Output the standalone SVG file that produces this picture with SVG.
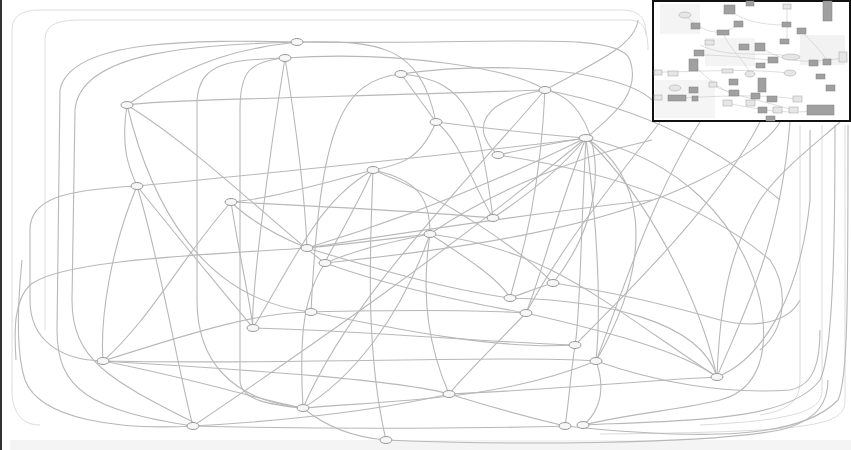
<svg xmlns="http://www.w3.org/2000/svg" width="851" height="450" viewBox="0 0 851 450">
<style>
.e{fill:none;stroke:#b8b8b8;stroke-width:1.1}
.f{fill:none;stroke:#dcdcdc;stroke-width:1}
.n{fill:#f7f7f7;stroke:#999;stroke-width:1}
.ib{fill:#a0a0a0;stroke:#808080;stroke-width:0.5}
.il{fill:#e6e6e6;stroke:#a0a0a0;stroke-width:0.5}
.ie{fill:none;stroke:#c8c8c8;stroke-width:0.6}
</style>
<rect width="851" height="450" fill="#ffffff"/>
<rect x="10" y="440" width="841" height="10" fill="#f4f4f4"/>
<line x1="1" y1="0" x2="1" y2="450" stroke="#333" stroke-width="2"/>
<g id="connectors">
<path class="f" d="M40,425 C20,425 12,410 12,390 L12,30 C12,16 22,10 40,10 L620,10 C640,10 646,18 646,35"/>
<path class="f" d="M45,330 L45,40 C45,26 55,20 80,20 L628,20 C642,20 648,28 648,50"/>
<path class="f" d="M800,125 L800,380 C800,400 790,410 760,415"/>
<path class="f" d="M822,125 L822,390 C822,410 800,420 700,425"/>
<path class="f" d="M845,125 L845,400 C845,425 820,432 600,434"/>
<path class="e" d="M297,42 C200,40 70,38 60,90 L57,330 C57,390 90,410 193,426"/>
<path class="e" d="M297,42 C200,45 80,50 75,110 L72,300 C72,360 110,380 193,422"/>
<path class="e" d="M285,58 C230,60 200,62 197,100 L197,300 C197,360 230,400 303,408"/>
<path class="e" d="M285,58 C250,62 240,70 240,110 L240,380 C240,400 270,405 303,408"/>
<path class="e" d="M297,42 C250,48 200,55 127,105"/>
<path class="e" d="M127,105 C160,100 300,98 545,90"/>
<path class="e" d="M127,105 C200,150 280,230 325,263"/>
<path class="e" d="M127,105 C120,150 130,170 137,186"/>
<path class="e" d="M137,186 C200,180 500,150 586,138"/>
<path class="e" d="M137,186 C180,240 230,300 253,328"/>
<path class="e" d="M137,186 C110,250 100,320 103,361"/>
<path class="e" d="M285,58 C300,150 305,200 307,248"/>
<path class="e" d="M297,42 C380,40 420,45 436,122"/>
<path class="e" d="M401,74 L436,122"/>
<path class="e" d="M401,74 C340,80 320,130 311,312"/>
<path class="e" d="M545,90 C480,100 470,130 498,155"/>
<path class="e" d="M545,90 C600,100 620,200 553,283"/>
<path class="e" d="M545,90 C540,200 520,260 510,298"/>
<path class="e" d="M586,138 C560,200 540,280 526,313"/>
<path class="e" d="M586,138 C580,250 580,320 575,345"/>
<path class="e" d="M586,138 C600,250 600,320 596,361"/>
<path class="e" d="M586,138 C650,200 700,300 717,377"/>
<path class="e" d="M586,138 C640,170 660,250 596,361"/>
<path class="e" d="M586,138 C500,180 400,220 307,248"/>
<path class="e" d="M373,170 C350,220 330,250 325,263"/>
<path class="e" d="M373,170 C420,180 430,200 430,234"/>
<path class="e" d="M373,170 C300,190 260,200 231,202"/>
<path class="e" d="M373,170 C370,250 365,350 386,440"/>
<path class="e" d="M231,202 C260,230 300,245 307,248"/>
<path class="e" d="M231,202 C240,260 250,300 253,328"/>
<path class="e" d="M231,202 C400,210 460,215 493,218"/>
<path class="e" d="M430,234 C380,240 340,245 307,248"/>
<path class="e" d="M430,234 C350,250 340,258 325,263"/>
<path class="e" d="M430,234 C470,260 500,280 510,298"/>
<path class="e" d="M430,234 C420,300 430,350 449,394"/>
<path class="e" d="M430,234 C400,320 350,380 303,408"/>
<path class="e" d="M307,248 C380,270 450,290 510,298"/>
<path class="e" d="M325,263 C400,290 480,305 526,313"/>
<path class="e" d="M325,263 C300,300 300,350 303,408"/>
<path class="e" d="M307,248 C200,255 60,260 30,285 C14,300 14,330 16,360"/>
<path class="e" d="M311,312 C400,310 480,310 526,313"/>
<path class="e" d="M311,312 C260,312 200,330 103,361"/>
<path class="e" d="M253,328 C350,330 450,340 575,345"/>
<path class="e" d="M103,361 C250,370 400,380 449,394"/>
<path class="e" d="M103,361 C200,380 260,400 303,408"/>
<path class="e" d="M103,361 C300,365 500,355 596,361"/>
<path class="e" d="M596,361 C610,400 590,420 583,425"/>
<path class="e" d="M575,345 C570,380 568,410 565,426"/>
<path class="e" d="M449,394 C550,390 650,380 717,377"/>
<path class="e" d="M193,426 C300,420 380,410 449,394"/>
<path class="e" d="M193,426 C350,430 500,428 565,426"/>
<path class="e" d="M303,408 C400,400 500,400 596,361"/>
<path class="e" d="M717,377 C760,360 800,300 810,200 L810,130"/>
<path class="e" d="M717,377 C720,300 730,250 760,200 C780,170 820,140 840,122"/>
<path class="e" d="M583,425 C700,420 790,420 820,380 C835,350 835,200 835,125"/>
<path class="e" d="M565,426 C700,440 800,440 838,400 C848,380 848,300 848,125"/>
<path class="e" d="M386,440 C500,445 700,445 780,430 C820,420 828,400 828,380"/>
<path class="e" d="M193,426 C120,430 40,420 25,380 C15,350 18,300 22,260"/>
<path class="e" d="M493,218 C520,200 560,170 586,138"/>
<path class="e" d="M493,218 C470,180 460,140 436,122"/>
<path class="e" d="M436,122 C500,130 550,135 586,138"/>
<path class="e" d="M498,155 C520,150 560,142 586,138"/>
<path class="e" d="M545,90 C600,60 635,45 638,20"/>
<path class="e" d="M285,58 C270,150 250,300 253,328"/>
<path class="e" d="M401,74 C470,80 480,120 493,218"/>
<path class="e" d="M436,122 C420,160 400,165 373,170"/>
<path class="e" d="M553,283 C530,290 520,295 510,298"/>
<path class="e" d="M510,298 C600,300 700,320 717,377"/>
<path class="e" d="M526,313 C600,330 680,350 717,377"/>
<path class="e" d="M575,345 C500,350 400,330 311,312"/>
<path class="e" d="M103,361 C60,360 30,340 30,300 L30,230 C30,200 60,190 137,186"/>
<path class="e" d="M545,90 C450,200 350,300 303,408"/>
<path class="e" d="M586,138 C450,250 320,340 193,426"/>
<path class="e" d="M717,377 C600,300 550,250 430,234"/>
<path class="e" d="M660,122 C600,200 560,250 526,313"/>
<path class="e" d="M700,122 C650,200 620,300 596,361"/>
<path class="e" d="M760,122 C720,200 640,280 575,345"/>
<path class="e" d="M790,122 C780,250 740,320 717,377"/>
<path class="e" d="M652,140 C560,160 480,200 430,234"/>
<path class="e" d="M297,42 C500,45 620,30 630,60 C640,90 620,110 586,138"/>
<path class="e" d="M401,74 C500,60 620,70 652,100"/>
<path class="e" d="M285,58 C400,50 520,70 545,90"/>
<path class="e" d="M137,186 C160,260 180,380 193,426"/>
<path class="e" d="M127,105 C150,200 200,300 311,312"/>
<path class="e" d="M231,202 C180,260 150,320 103,361"/>
<path class="e" d="M373,170 C450,200 520,250 553,283"/>
<path class="e" d="M307,248 C420,230 520,215 652,200"/>
<path class="e" d="M325,263 C450,250 600,230 700,180 C740,160 770,140 780,122"/>
<path class="e" d="M253,328 C300,250 320,200 373,170"/>
<path class="e" d="M526,313 C480,360 460,380 449,394"/>
<path class="e" d="M553,283 C600,290 650,300 720,320 C760,330 790,320 800,300"/>
<path class="e" d="M449,394 C500,410 540,420 565,426"/>
<path class="e" d="M303,408 C330,430 360,438 386,440"/>
<path class="e" d="M586,138 C680,160 740,220 760,300 C770,350 760,390 720,400 C680,410 640,412 583,425"/>
<path class="e" d="M498,155 C600,170 700,200 770,260 C790,290 785,330 760,350"/>
<path class="e" d="M545,90 C650,110 720,150 780,200"/>
<path class="e" d="M596,361 C650,380 720,395 790,390 C815,385 820,360 820,330"/>
</g>
<g id="inset">
<rect x="653" y="1" width="197" height="120" fill="#ffffff" stroke="#111" stroke-width="2"/>
<rect x="660" y="4" width="40" height="30" fill="#f4f4f4"/>
<rect x="705" y="38" width="50" height="28" fill="#f4f4f4"/>
<rect x="800" y="35" width="45" height="30" fill="#f2f2f2"/>
<rect x="655" y="80" width="60" height="38" fill="#f5f5f5"/>
<g class="ie">
<path d="M685,15 C700,30 720,40 738,24"/><path d="M729,9 C740,20 760,25 786,25"/>
<path d="M700,45 C730,60 770,50 790,57"/><path d="M660,72 C700,72 740,68 790,73"/>
<path d="M680,98 C720,96 760,94 797,99"/><path d="M723,33 C730,50 745,60 750,74"/>
<path d="M760,47 C780,60 800,65 843,58"/><path d="M713,85 C730,95 760,100 793,110"/>
<path d="M693,65 C710,80 720,90 733,93"/><path d="M787,7 L787,42"/><path d="M801,31 C815,45 825,55 827,62"/>
<path d="M700,55 C730,55 760,60 773,60"/><path d="M727,103 C760,110 790,115 820,110"/>
</g>
<rect class="ib" x="724" y="5" width="11" height="9"/>
<rect class="ib" x="746" y="1" width="8" height="5"/>
<rect class="il" x="783" y="4" width="8" height="5"/>
<rect class="ib" x="823" y="1" width="9" height="20"/>
<ellipse class="il" cx="685" cy="15" rx="6" ry="3"/>
<rect class="ib" x="691" y="23" width="9" height="6"/>
<rect class="ib" x="734" y="21" width="9" height="6"/>
<rect class="ib" x="782" y="22" width="9" height="5"/>
<rect class="ib" x="797" y="28" width="9" height="6"/>
<rect class="ib" x="717" y="30" width="12" height="5"/>
<rect class="il" x="705" y="40" width="9" height="5"/>
<rect class="ib" x="739" y="44" width="10" height="6"/>
<rect class="ib" x="755" y="43" width="10" height="8"/>
<rect class="ib" x="780" y="39" width="9" height="5"/>
<rect class="ib" x="694" y="50" width="10" height="6"/>
<rect class="ib" x="768" y="57" width="10" height="6"/>
<ellipse class="il" cx="791" cy="57" rx="9" ry="3"/>
<rect class="ib" x="689" y="59" width="9" height="12"/>
<rect class="il" x="654" y="70" width="8" height="5"/>
<rect class="il" x="668" y="71" width="10" height="5"/>
<rect class="il" x="722" y="69" width="11" height="4"/>
<ellipse class="il" cx="750" cy="74" rx="5" ry="3"/>
<rect class="ib" x="756" y="63" width="9" height="5"/>
<ellipse class="il" cx="790" cy="73" rx="6" ry="3"/>
<rect class="ib" x="809" y="60" width="9" height="6"/>
<rect class="ib" x="823" y="59" width="8" height="6"/>
<rect class="il" x="839" y="52" width="8" height="10"/>
<rect class="ib" x="816" y="74" width="9" height="5"/>
<rect class="ib" x="826" y="85" width="9" height="6"/>
<rect class="ib" x="729" y="79" width="9" height="6"/>
<rect class="ib" x="758" y="78" width="8" height="14"/>
<rect class="il" x="709" y="82" width="8" height="5"/>
<ellipse class="il" cx="675" cy="88" rx="6" ry="3"/>
<rect class="ib" x="689" y="87" width="9" height="6"/>
<rect class="ib" x="729" y="90" width="10" height="6"/>
<rect class="il" x="654" y="95" width="8" height="5"/>
<rect class="ib" x="668" y="95" width="18" height="6"/>
<rect class="ib" x="692" y="96" width="6" height="5"/>
<rect class="ib" x="751" y="93" width="9" height="6"/>
<rect class="ib" x="767" y="96" width="10" height="6"/>
<rect class="il" x="793" y="96" width="9" height="6"/>
<rect class="il" x="723" y="100" width="9" height="6"/>
<rect class="il" x="746" y="100" width="9" height="6"/>
<rect class="ib" x="758" y="107" width="9" height="6"/>
<rect class="il" x="773" y="107" width="9" height="6"/>
<rect class="il" x="789" y="107" width="9" height="6"/>
<rect class="ib" x="807" y="105" width="27" height="10"/>
<rect class="ib" x="766" y="116" width="9" height="5"/>
</g>
<g id="node1"><ellipse class="n" cx="297" cy="42" rx="6" ry="3.5"/></g>
<g id="node2"><ellipse class="n" cx="285" cy="58" rx="6" ry="3.5"/></g>
<g id="node3"><ellipse class="n" cx="401" cy="74" rx="6" ry="3.5"/></g>
<g id="node4"><ellipse class="n" cx="545" cy="90" rx="6" ry="3.5"/></g>
<g id="node5"><ellipse class="n" cx="127" cy="105" rx="6" ry="3.5"/></g>
<g id="node6"><ellipse class="n" cx="436" cy="122" rx="6" ry="3.5"/></g>
<g id="node7"><ellipse class="n" cx="586" cy="138" rx="7" ry="3.5"/></g>
<g id="node8"><ellipse class="n" cx="498" cy="155" rx="6" ry="3.5"/></g>
<g id="node9"><ellipse class="n" cx="137" cy="186" rx="6" ry="3.5"/></g>
<g id="node10"><ellipse class="n" cx="373" cy="170" rx="6" ry="3.5"/></g>
<g id="node11"><ellipse class="n" cx="231" cy="202" rx="6" ry="3.5"/></g>
<g id="node12"><ellipse class="n" cx="493" cy="218" rx="6" ry="3.5"/></g>
<g id="node13"><ellipse class="n" cx="430" cy="234" rx="6" ry="3.5"/></g>
<g id="node14"><ellipse class="n" cx="307" cy="248" rx="6" ry="3.5"/></g>
<g id="node15"><ellipse class="n" cx="325" cy="263" rx="6" ry="3.5"/></g>
<g id="node16"><ellipse class="n" cx="553" cy="283" rx="6" ry="3.5"/></g>
<g id="node17"><ellipse class="n" cx="510" cy="298" rx="6" ry="3.5"/></g>
<g id="node18"><ellipse class="n" cx="311" cy="312" rx="6" ry="3.5"/></g>
<g id="node19"><ellipse class="n" cx="253" cy="328" rx="6" ry="3.5"/></g>
<g id="node20"><ellipse class="n" cx="526" cy="313" rx="6" ry="3.5"/></g>
<g id="node21"><ellipse class="n" cx="575" cy="345" rx="6" ry="3.5"/></g>
<g id="node22"><ellipse class="n" cx="103" cy="361" rx="6" ry="3.5"/></g>
<g id="node23"><ellipse class="n" cx="596" cy="361" rx="6" ry="3.5"/></g>
<g id="node24"><ellipse class="n" cx="717" cy="377" rx="6" ry="3.5"/></g>
<g id="node25"><ellipse class="n" cx="449" cy="394" rx="6" ry="3.5"/></g>
<g id="node26"><ellipse class="n" cx="303" cy="408" rx="6" ry="3.5"/></g>
<g id="node27"><ellipse class="n" cx="193" cy="426" rx="6" ry="3.5"/></g>
<g id="node28"><ellipse class="n" cx="565" cy="426" rx="6" ry="3.5"/></g>
<g id="node29"><ellipse class="n" cx="583" cy="425" rx="6" ry="3.5"/></g>
<g id="node30"><ellipse class="n" cx="386" cy="440" rx="6" ry="3.5"/></g>
</svg>
